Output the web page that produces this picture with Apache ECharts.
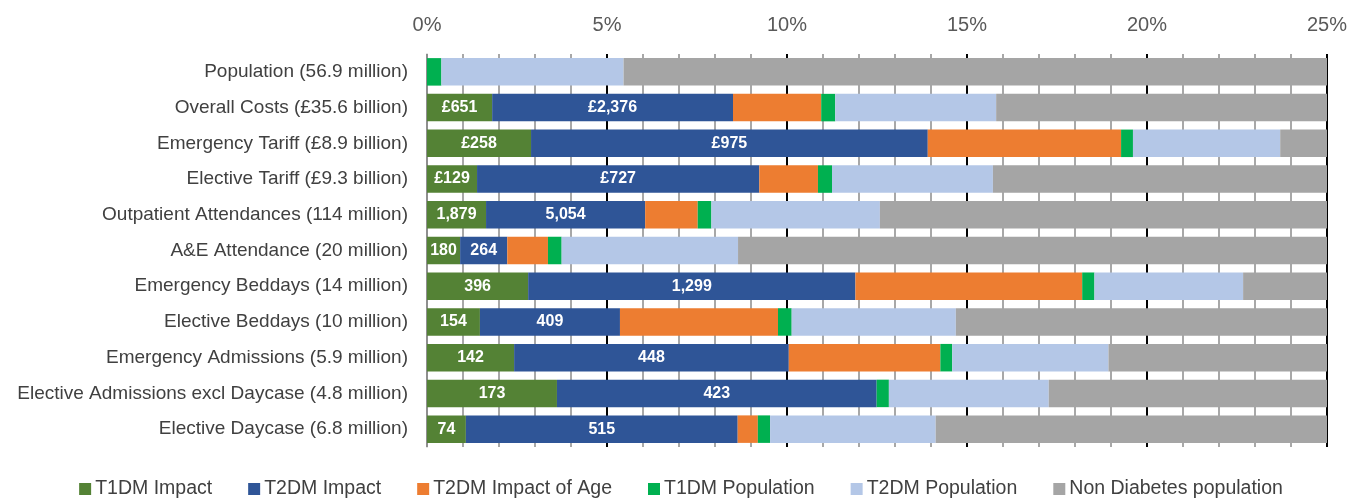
<!DOCTYPE html>
<html><head><meta charset="utf-8">
<script src="https://cdn.jsdelivr.net/npm/echarts@6/dist/echarts.min.js"></script>
<style>html,body{margin:0;padding:0;background:#fff}#c{width:1362px;height:501px}</style>
</head><body><div id="c"></div>
<script>
const categories = ['Population (56.9 million)','Overall Costs (£35.6 billion)','Emergency Tariff (£8.9 billion)','Elective Tariff (£9.3 billion)','Outpatient Attendances (114 million)','A&E Attendance (20 million)','Emergency Beddays (14 million)','Elective Beddays (10 million)','Emergency Admissions (5.9 million)','Elective Admissions excl Daycase (4.8 million)','Elective Daycase (6.8 million)'];
const t1dmImpact   = [0, 1.81, 2.89, 1.39, 1.64, 0.92, 2.81, 1.47, 2.42, 3.61, 1.08];
const t2dmImpact   = [0, 6.69, 11.02, 7.84, 4.42, 1.31, 9.09, 3.89, 7.63, 8.88, 7.55];
const t2dmAge      = [0, 2.45, 5.37, 1.63, 1.46, 1.13, 6.30, 4.39, 4.21, 0, 0.56];
const t1dmPop      = [0.40, 0.39, 0.33, 0.39, 0.38, 0.38, 0.34, 0.38, 0.33, 0.34, 0.34];
const t2dmPop      = [5.06, 4.47, 4.09, 4.47, 4.68, 4.90, 4.13, 4.56, 4.34, 4.44, 4.60];
const t1Labels = ['', '£651', '£258', '£129', '1,879', '180', '396', '154', '142', '173', '74'];
const t2Labels = ['', '£2,376', '£975', '£727', '5,054', '264', '1,299', '409', '448', '423', '515'];
const nonDiab = categories.map((c,i)=> +(100 - t1dmImpact[i]-t2dmImpact[i]-t2dmAge[i]-t1dmPop[i]-t2dmPop[i]).toFixed(2));
const seriesNames = ['T1DM Impact','T2DM Impact','T2DM Impact of Age','T1DM Population','T2DM Population','Non Diabetes population'];
const colors = ['#548235','#2F5597','#ED7D31','#00B050','#B4C7E7','#A5A5A5'];
const dataSets = [t1dmImpact,t2dmImpact,t2dmAge,t1dmPop,t2dmPop,nonDiab];
const labelSets = [t1Labels,t2Labels,null,null,null,null];
const FONT = 'Liberation Sans';
const chart = echarts.init(document.getElementById('c'));
chart.setOption({
  animation:false,
  color: colors,
  grid:{left:427, right:35, top:54, height:393, containLabel:false},
  legend:{top:474, left:'center', itemWidth:12, itemHeight:12, itemGap:36, icon:'rect',
    textStyle:{fontFamily:FONT, fontSize:19.5, color:'#404040', padding:[0,0,0,-1]}},
  xAxis:{type:'value', position:'top', min:0, max:25, interval:5,
    axisLine:{show:false}, axisTick:{show:false},
    axisLabel:{formatter:'{value}%', fontFamily:FONT, fontSize:20, color:'#595959', margin:19},
    splitLine:{show:true, lineStyle:{color:'#000', width:2}},
    minorTick:{show:false, splitNumber:5},
    minorSplitLine:{show:true, lineStyle:{color:'#8c8c8c', width:1.5}}
  },
  yAxis:{type:'category', data:categories, inverse:true,
    axisLine:{show:true, lineStyle:{color:'#bfbfbf', width:1.5}}, axisTick:{show:false},
    axisLabel:{fontFamily:FONT, fontSize:19, color:'#404040', margin:19}
  },
  series: seriesNames.map((n,k)=>({
    name:n, type:'bar', stack:'s', barWidth:'77%', clip:true,
    data: dataSets[k],
    label: labelSets[k] ? {show:true, position:'inside', color:'#fff', fontWeight:'bold', fontFamily:FONT, fontSize:16,
      formatter: p => labelSets[k][p.dataIndex]} : {show:false},
    emphasis:{disabled:true}
  }))
});
</script></body></html>
